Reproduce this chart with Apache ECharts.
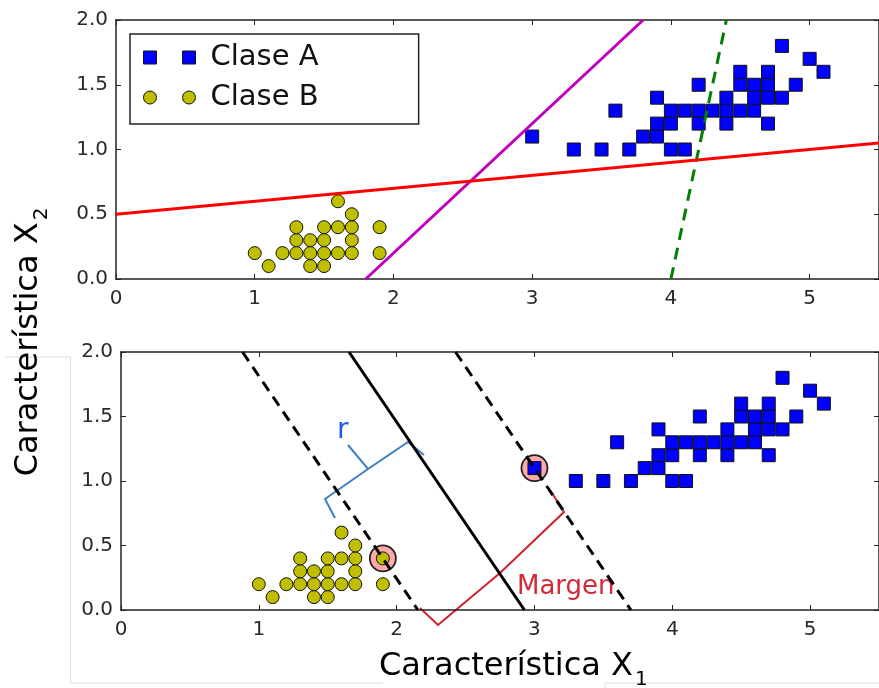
<!DOCTYPE html>
<html>
<head>
<meta charset="utf-8">
<script src="https://cdn.jsdelivr.net/npm/echarts@6/dist/echarts.min.js"></script>
<style>
	html,body{margin:0;padding:0;background:#fff;}
	#chart{width:879px;height:688px;}
</style>
</head>
<body>
<div id="chart"></div>
<script>
//datos: longitud y ancho de pétalo
var claseA = [
	[3.0,1.1],[3.3,1.0],[3.5,1.0],[3.6,1.3],[3.7,1.0],[3.8,1.1],[3.9,1.1],[3.9,1.2],[3.9,1.4],
	[4.0,1.0],[4.0,1.2],[4.0,1.3],[4.1,1.0],[4.1,1.3],[4.2,1.2],[4.2,1.3],[4.2,1.5],[4.3,1.3],
	[4.4,1.2],[4.4,1.3],[4.4,1.4],[4.5,1.3],[4.5,1.5],[4.5,1.6],[4.6,1.3],[4.6,1.4],[4.6,1.5],
	[4.7,1.2],[4.7,1.4],[4.7,1.5],[4.7,1.6],[4.8,1.4],[4.8,1.8],[4.9,1.5],[5.0,1.7],[5.1,1.6]
]
var claseB = [
	[1.0,0.2],[1.1,0.1],[1.2,0.2],[1.3,0.2],[1.3,0.3],[1.3,0.4],[1.4,0.1],[1.4,0.2],[1.4,0.3],
	[1.5,0.1],[1.5,0.2],[1.5,0.3],[1.5,0.4],[1.6,0.2],[1.6,0.4],[1.6,0.6],[1.7,0.2],[1.7,0.3],
	[1.7,0.4],[1.7,0.5],[1.9,0.2],[1.9,0.4]
]
//modelos malos (arriba)
var lineaVerde = [[4.0,0],[4.4,2.0]]
var lineaMagenta = [[1.8,0],[3.8,2.0]]
var lineaRoja = [[0,0.5],[5.5,1.05]]
//SVM (abajo)
var frontera = [[1.6545,2.0],[2.9273,0]]
var margenSup = [[2.4273,2.0],[3.7000,0]]
var margenInf = [[0.8818,2.0],[2.1545,0]]
var vectoresSoporte = [[1.9,0.4],[3.0,1.1]]
var limitesX = [0,5.5]
var limitesY = [0,2]
var pasoX = 1
var pasoY = 0.5

var fuente = "DejaVu Sans"
var negro = "#222"

function eje_x(grid,pos,etiquetas){
	return {
		type:'value', gridIndex:grid, position:pos,
		min:limitesX[0], max:limitesX[1], interval:pasoX,
		axisLine:{show:true,onZero:false,lineStyle:{color:negro,width:1.5}},
		axisTick:{show:true,inside:true,length:5,lineStyle:{color:negro,width:1}},
		axisLabel:{show:etiquetas,showMaxLabel:false,margin:10,color:"#2a2a2a",fontSize:20,fontFamily:fuente},
		splitLine:{show:false}
	}
}
function eje_y(grid,pos,etiquetas){
	return {
		type:'value', gridIndex:grid, position:pos,
		min:limitesY[0], max:limitesY[1], interval:pasoY,
		axisLine:{show:true,onZero:false,lineStyle:{color:negro,width:1.5}},
		axisTick:{show:true,inside:true,length:5,lineStyle:{color:negro,width:1}},
		axisLabel:{show:etiquetas,margin:8,color:"#2a2a2a",fontSize:20,fontFamily:fuente,
			formatter:function(v){return v.toFixed(1)}},
		splitLine:{show:false}
	}
}
function linea(data,color,tipo,xi,yi){
	return {
		type:'line', data:data, xAxisIndex:xi, yAxisIndex:yi,
		showSymbol:false, symbol:'none', silent:true,
		lineStyle:{color:color,width:3,type:tipo}
	}
}
function puntos(nombre,data,simbolo,color,tam,xi,yi){
	return {
		name:nombre, type:'scatter', data:data, xAxisIndex:xi, yAxisIndex:yi,
		symbol:simbolo, symbolSize:tam,
		itemStyle:{color:color,borderColor:"#111",borderWidth:1,opacity:1}
	}
}
function texto(txt,x,y,color,size){
	return {
		type:'text', x:x, y:y, silent:true,
		style:{text:txt,fill:color,fontSize:size,fontFamily:fuente,
			align:'left',verticalAlign:'middle',textAlign:'left',textVerticalAlign:'middle'}
	}
}
function trazo(puntos,color,ancho){
	return {
		type:'polyline', silent:true,
		shape:{points:puntos},
		style:{stroke:color,lineWidth:ancho,fill:null,lineJoin:'miter'}
	}
}
var tituloRich = {
	m:{fontSize:32,fontFamily:fuente,color:"#111",verticalAlign:'middle'},
	s:{fontSize:20,fontFamily:fuente,color:"#111",verticalAlign:'middle',padding:[25,0,0,2]}
}

var chart = echarts.init(document.getElementById('chart'))
var option = {
	animation:false,
	backgroundColor:'#fff',
	grid:[
		{left:116,top:20,width:763,height:259},
		{left:121,top:352,width:763,height:258}
	],
	xAxis:[eje_x(0,'bottom',true),eje_x(0,'top',false),eje_x(1,'bottom',true),eje_x(1,'top',false)],
	yAxis:[eje_y(0,'left',true),eje_y(0,'right',false),eje_y(1,'left',true),eje_y(1,'right',false)],
	legend:{
		left:130, top:34, orient:'vertical',
		data:[
			{name:'Clase A',icon:'path://M0,0H13V13H0Z M39,0H52V13H39Z'},
			{name:'Clase B',icon:'path://M0,6.5A6.5,6.5,0,1,1,13,6.5A6.5,6.5,0,1,1,0,6.5Z M39,6.5A6.5,6.5,0,1,1,52,6.5A6.5,6.5,0,1,1,39,6.5Z'}
		],
		itemWidth:52, itemHeight:13, itemGap:11,
		padding:[9,100,12,13],
		borderColor:"#222", borderWidth:1.5, backgroundColor:'#fff',
		itemStyle:{borderColor:"#111",borderWidth:1},
		textStyle:{fontSize:29,fontFamily:fuente,color:"#111",padding:[0,0,0,10]},
		selectedMode:false
	},
	series:[
		linea(lineaVerde,'#008000',[12,8],0,0),
		linea(lineaMagenta,'#bf00bf','solid',0,0),
		linea(lineaRoja,'#ff0000','solid',0,0),
		puntos('Clase A',claseA,'rect','#0000ff',13,0,0),
		puntos('Clase B',claseB,'circle','#bfbf00',13,0,0),
		{
			type:'scatter', data:vectoresSoporte, xAxisIndex:2, yAxisIndex:2,
			symbol:'circle', symbolSize:26, silent:true,
			itemStyle:{color:'#ffaaaa',borderColor:'#222',borderWidth:1.8,opacity:1}
		},
		puntos('Clase A',claseA,'rect','#0000ff',13,2,2),
		puntos('Clase B',claseB,'circle','#bfbf00',13,2,2),
		linea(frontera,'#000','solid',2,2),
		linea(margenSup,'#000',[11,7],2,2),
		linea(margenInf,'#000',[11,7],2,2)
	],
	graphic:[
		//bordes del recorte de la imagen
		trazo([[5,357],[70.5,357],[70.5,683],[383,683]],'#dcdcdc',1),
		trazo([[605,688],[605,683],[879,683]],'#dcdcdc',1),
		//anotaciones
		trazo([[424,455],[408,442],[368,469],[348,445]],'#3b80c6',2),
		trazo([[368,469],[325,499],[335,518]],'#3b80c6',2),
		texto('r',337,431,'#1f5fe6',28),
		trazo([[552,493],[564,512],[500,573],[438,625],[420,608]],'#d0202e',2),
		texto('Margen',517,587,'#d42a38',26),
		//títulos de ejes
		{
			type:'text', x:379, y:667, silent:true,
			style:{text:'{m|Característica X}{s|1}',rich:tituloRich,
				align:'left',verticalAlign:'middle',textAlign:'left',textVerticalAlign:'middle'}
		},
		{
			type:'text', x:29, y:342, rotation:Math.PI/2, silent:true,
			style:{text:'{m|Característica X}{s|2}',rich:tituloRich,
				align:'center',verticalAlign:'middle',textAlign:'center',textVerticalAlign:'middle'}
		}
	]
}
chart.setOption(option)
</script>
</body>
</html>
